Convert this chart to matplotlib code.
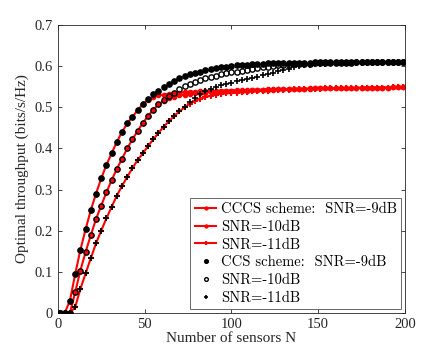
import numpy as np
import matplotlib
matplotlib.use("Agg")
import matplotlib.pyplot as plt

# Number of sensors (marker positions)
N = np.arange(1, 201, 3)

# CCS scheme (black markers)
ccs_9 = [0, 0, 0.030, 0.094, 0.153, 0.203, 0.250, 0.290, 0.327, 0.360,
         0.388, 0.416, 0.440, 0.461, 0.477, 0.493, 0.508, 0.521, 0.532, 0.541,
         0.549, 0.557, 0.565, 0.571, 0.576, 0.580, 0.584, 0.587, 0.590, 0.593,
         0.595, 0.597, 0.599, 0.600, 0.602, 0.603, 0.604, 0.605, 0.606, 0.606,
         0.607, 0.607, 0.608, 0.608, 0.608, 0.609, 0.609, 0.609, 0.609, 0.610,
         0.610, 0.610, 0.610, 0.610, 0.610, 0.610, 0.611, 0.611, 0.611, 0.611,
         0.611, 0.611, 0.611, 0.611, 0.611, 0.611, 0.611]
ccs_10 = [0, 0, 0, 0.050, 0.103, 0.148, 0.189, 0.228, 0.261, 0.293,
          0.323, 0.350, 0.375, 0.400, 0.422, 0.443, 0.462, 0.479, 0.494, 0.507,
          0.518, 0.528, 0.536, 0.544, 0.551, 0.557, 0.562, 0.567, 0.571, 0.574,
          0.577, 0.580, 0.583, 0.585, 0.587, 0.589, 0.591, 0.593, 0.595, 0.597,
          0.599, 0.600, 0.602, 0.603, 0.604, 0.605, 0.605, 0.606, 0.606, 0.607,
          0.607, 0.608, 0.608, 0.608, 0.609, 0.609, 0.609, 0.610, 0.610, 0.610,
          0.610, 0.610, 0.611, 0.611, 0.611, 0.611, 0.611]
ccs_11 = [0, 0, 0, 0.014, 0.058, 0.096, 0.133, 0.169, 0.200, 0.230,
          0.258, 0.285, 0.309, 0.331, 0.352, 0.372, 0.388, 0.406, 0.422, 0.438,
          0.453, 0.466, 0.479, 0.490, 0.502, 0.512, 0.522, 0.532, 0.539, 0.545,
          0.550, 0.554, 0.557, 0.560, 0.563, 0.566, 0.569, 0.572, 0.575, 0.578,
          0.581, 0.584, 0.588, 0.591, 0.594, 0.597, 0.600, 0.602, 0.603, 0.605,
          0.606, 0.606, 0.607, 0.607, 0.608, 0.608, 0.608, 0.609, 0.609, 0.609,
          0.610, 0.610, 0.610, 0.610, 0.611, 0.611, 0.611]

# CCCS scheme (red lines)
cccs_9 = [0, 0, 0.030, 0.094, 0.153, 0.203, 0.250, 0.290, 0.327, 0.360,
          0.388, 0.416, 0.440, 0.461, 0.477, 0.493, 0.508, 0.519, 0.525, 0.529,
          0.531, 0.533, 0.535, 0.536, 0.537, 0.538, 0.538, 0.539, 0.539, 0.540,
          0.540, 0.541, 0.541, 0.541, 0.542, 0.542, 0.542, 0.543, 0.543, 0.543,
          0.544, 0.544, 0.544, 0.544, 0.545, 0.545, 0.545, 0.545, 0.546, 0.546,
          0.546, 0.546, 0.546, 0.547, 0.547, 0.547, 0.547, 0.547, 0.548, 0.548,
          0.548, 0.548, 0.548, 0.548, 0.549, 0.549, 0.549]
cccs_10 = [0, 0, 0, 0.050, 0.103, 0.148, 0.189, 0.228, 0.261, 0.293,
           0.323, 0.350, 0.375, 0.400, 0.422, 0.443, 0.462, 0.479, 0.494, 0.507,
           0.516, 0.522, 0.526, 0.529, 0.531, 0.533, 0.534, 0.535, 0.536, 0.537,
           0.538, 0.538, 0.539, 0.540, 0.540, 0.541, 0.541, 0.542, 0.542, 0.543,
           0.543, 0.543, 0.544, 0.544, 0.544, 0.545, 0.545, 0.545, 0.545, 0.546,
           0.546, 0.546, 0.546, 0.547, 0.547, 0.547, 0.547, 0.547, 0.548, 0.548,
           0.548, 0.548, 0.548, 0.548, 0.549, 0.549, 0.549]
cccs_11 = [0, 0, 0, 0.014, 0.058, 0.096, 0.133, 0.169, 0.200, 0.230,
           0.258, 0.285, 0.309, 0.331, 0.352, 0.372, 0.388, 0.406, 0.422, 0.438,
           0.453, 0.466, 0.479, 0.490, 0.500, 0.509, 0.516, 0.521, 0.525, 0.528,
           0.531, 0.533, 0.534, 0.535, 0.536, 0.537, 0.538, 0.539, 0.540, 0.540,
           0.541, 0.542, 0.542, 0.543, 0.543, 0.544, 0.544, 0.544, 0.545, 0.545,
           0.545, 0.546, 0.546, 0.546, 0.546, 0.547, 0.547, 0.547, 0.547, 0.548,
           0.548, 0.548, 0.548, 0.548, 0.549, 0.549, 0.549]

labels = ["CCCS scheme:  SNR=-9dB", "SNR=-10dB", "SNR=-11dB",
          "CCS scheme:  SNR=-9dB", "SNR=-10dB", "SNR=-11dB"]

plt.rcParams['font.family'] = ['Liberation Serif', 'DejaVu Serif']

fig = plt.figure(figsize=(4.48, 3.54), dpi=100)
ax = fig.add_axes([0.129, 0.116, 0.775, 0.813])

red = '#ff0000'
ax.plot(N, cccs_9, '-', color=red, lw=1.5, marker='.', ms=6, label=labels[0], zorder=2)
ax.plot(N, cccs_10, '-', color=red, lw=1.5, marker='.', ms=6, label=labels[1], zorder=2)
ax.plot(N, cccs_11, '-', color=red, lw=1.5, marker='+', ms=5, mew=1.5, label=labels[2], zorder=2)
ax.plot(N, ccs_9, linestyle='none', marker='o', ms=3.8, color='k', mfc='k', label=labels[3], zorder=3)
ax.plot(N, ccs_10, linestyle='none', marker='o', ms=3.8, color='k', mfc='none', mew=1.0, label=labels[4], zorder=3)
ax.plot(N, ccs_11, linestyle='none', marker='+', ms=4.5, color='k', mew=1.2, label=labels[5], zorder=3)

ax.set_xlim(0, 200)
ax.set_ylim(0, 0.7)
ax.set_xticks([0, 50, 100, 150, 200])
ax.set_yticks(np.arange(0, 0.71, 0.1))
ax.set_yticklabels(['0', '0.1', '0.2', '0.3', '0.4', '0.5', '0.6', '0.7'])
ax.tick_params(direction='in', top=True, right=True, labelsize=10.5,
               length=3, width=0.6, colors='#262626', labelcolor='#262626')
for s in ax.spines.values():
    s.set_linewidth(0.6)
    s.set_color('#262626')

ax.set_xlabel('Number of sensors N', fontsize=11, color='#262626', labelpad=1)
ax.set_ylabel('Optimal throughput (bits/s/Hz)', fontsize=11, color='#262626', labelpad=4)

leg = ax.legend(loc='lower right', frameon=True, fancybox=False,
                edgecolor='#262626', borderaxespad=0.25, handlelength=1.5,
                handletextpad=0.3, labelspacing=0.28, borderpad=0.3,
                markerscale=0.7, prop={'family': 'cmr10', 'size': 10.5})
leg.get_frame().set_linewidth(0.6)

fig.savefig('out.png', dpi=100)
